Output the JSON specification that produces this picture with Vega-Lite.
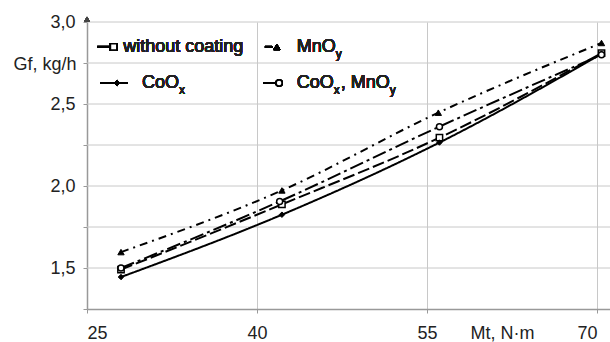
{
  "$schema": "https://vega.github.io/schema/vega-lite/v6.json",
  "width": 523,
  "height": 287,
  "autosize": {"type": "none"},
  "padding": {"left": 87, "top": 22, "right": 0, "bottom": 33},
  "background": "white",
  "config": {
    "view": {"stroke": null},
    "font": "Liberation Sans",
    "axis": {
      "gridColor": "#c8c8c8",
      "domainColor": "#999999",
      "domainWidth": 1.5,
      "tickColor": "#999999",
      "tickSize": 4,
      "labelFont": "Liberation Sans",
      "labelFontSize": 18,
      "labelColor": "#222222",
      "titleFont": "Liberation Sans",
      "titleFontSize": 18,
      "titleFontWeight": "normal",
      "titleColor": "#222222"
    },
    "text": {"font": "Liberation Sans", "fontSize": 18, "fontWeight": "normal", "fill": "#222222", "align": "left", "baseline": "middle"}
  },
  "datasets": {
    "series": [
      {"s": "without coating", "x": 28, "y": 1.49},
      {"s": "without coating", "x": 42.2, "y": 1.888},
      {"s": "without coating", "x": 56.1, "y": 2.295},
      {"s": "without coating", "x": 70.4, "y": 2.81},
      {"s": "MnOy", "x": 28, "y": 1.597},
      {"s": "MnOy", "x": 42.2, "y": 1.973},
      {"s": "MnOy", "x": 56.0, "y": 2.447},
      {"s": "MnOy", "x": 70.4, "y": 2.872},
      {"s": "CoOx", "x": 28, "y": 1.445},
      {"s": "CoOx", "x": 42.2, "y": 1.825},
      {"s": "CoOx", "x": 56.1, "y": 2.265},
      {"s": "CoOx", "x": 70.4, "y": 2.805},
      {"s": "CoOx, MnOy", "x": 28, "y": 1.5},
      {"s": "CoOx, MnOy", "x": 42.0, "y": 1.906},
      {"s": "CoOx, MnOy", "x": 56.1, "y": 2.362},
      {"s": "CoOx, MnOy", "x": 70.4, "y": 2.8}
    ],
    "gridY": [
      {"g": 1.5}, {"g": 1.75}, {"g": 2.0}, {"g": 2.25}, {"g": 2.5}, {"g": 2.75}, {"g": 3.0}
    ]
  },
  "data": {"name": "series"},
  "layer": [
    {
      "data": {"name": "gridY"},
      "mark": {"type": "rule", "color": "#c8c8c8", "strokeWidth": 1},
      "encoding": {
        "y": {
          "field": "g", "type": "quantitative",
          "scale": {"domain": [1.25, 3.0], "nice": false, "zero": false},
          "axis": {
            "grid": false,
            "values": [1.25, 1.5, 1.75, 2.0, 2.25, 2.5, 2.75, 3.0],
            "labelExpr": "(datum.value * 4) % 2 == 0 ? replace(format(datum.value, '.1f'), '.', ',') : ''",
            "labelPadding": 8,
            "title": "Gf, kg/h",
            "titleAngle": 0,
            "titleX": -11,
            "titleY": 42,
            "titleAlign": "right",
            "titleBaseline": "middle"
          }
        }
      }
    },
    {
      "mark": {"type": "line", "stroke": "black", "strokeWidth": 2, "interpolate": "monotone"},
      "encoding": {
        "x": {
          "field": "x", "type": "quantitative",
          "scale": {"domain": [25, 71.15], "nice": false, "zero": false},
          "axis": {
            "grid": true,
            "values": [25, 40, 55, 70],
            "labelPadding": 11,
            "labelFlush": 25,
            "title": "Mt, N·m",
            "titleX": 383,
            "titleY": 15,
            "titleAlign": "left",
            "titleBaseline": "top"
          }
        },
        "y": {"field": "y", "type": "quantitative"},
        "strokeDash": {
          "field": "s", "type": "nominal",
          "scale": {
            "domain": ["without coating", "MnOy", "CoOx", "CoOx, MnOy"],
            "range": [[12, 4], [8, 5, 2, 5], [1, 0], [14, 4, 3, 4]]
          },
          "legend": null
        }
      }
    },
    {
      "transform": [{"filter": "datum.s == 'without coating'"}],
      "mark": {"type": "point", "shape": "square", "filled": true, "fill": "white", "stroke": "black", "strokeWidth": 1.5, "size": 40, "opacity": 1},
      "encoding": {"x": {"field": "x", "type": "quantitative"}, "y": {"field": "y", "type": "quantitative"}}
    },
    {
      "transform": [{"filter": "datum.s == 'MnOy'"}],
      "mark": {"type": "point", "shape": "triangle-up", "filled": true, "fill": "black", "stroke": "black", "strokeWidth": 1, "size": 40, "opacity": 1},
      "encoding": {"x": {"field": "x", "type": "quantitative"}, "y": {"field": "y", "type": "quantitative"}}
    },
    {
      "transform": [{"filter": "datum.s == 'CoOx'"}],
      "mark": {"type": "point", "shape": "diamond", "filled": true, "fill": "black", "stroke": "black", "strokeWidth": 1, "size": 30, "opacity": 1},
      "encoding": {"x": {"field": "x", "type": "quantitative"}, "y": {"field": "y", "type": "quantitative"}}
    },
    {
      "transform": [{"filter": "datum.s == 'CoOx, MnOy'"}],
      "mark": {"type": "point", "shape": "circle", "filled": true, "fill": "white", "stroke": "black", "strokeWidth": 1.5, "size": 36, "opacity": 1},
      "encoding": {"x": {"field": "x", "type": "quantitative"}, "y": {"field": "y", "type": "quantitative"}}
    },
    {
      "mark": {"type": "point", "shape": "triangle-up", "filled": true, "color": "#444444", "size": 30, "opacity": 1, "yOffset": -3},
      "encoding": {"x": {"datum": 25}, "y": {"datum": 3.0}}
    },
    {
      "mark": {"type": "rule", "color": "black", "strokeWidth": 2},
      "encoding": {"x": {"datum": 25.9}, "x2": {"datum": 27.1}, "y": {"datum": 2.848}}
    },
    {
      "mark": {"type": "point", "shape": "square", "filled": true, "fill": "white", "stroke": "black", "strokeWidth": 1.5, "size": 40, "opacity": 1},
      "encoding": {"x": {"datum": 27.35}, "y": {"datum": 2.848}}
    },
    {
      "mark": {"type": "text", "text": "without coating"},
      "encoding": {"x": {"datum": 28.2}, "y": {"datum": 2.848}}
    },
    {
      "mark": {"type": "rule", "color": "black", "strokeWidth": 2},
      "encoding": {"x": {"datum": 40.7}, "x2": {"datum": 41.35}, "y": {"datum": 2.848}}
    },
    {
      "mark": {"type": "point", "shape": "triangle-up", "filled": true, "fill": "black", "stroke": "black", "strokeWidth": 1, "size": 40, "opacity": 1},
      "encoding": {"x": {"datum": 41.75}, "y": {"datum": 2.848}}
    },
    {
      "mark": {"type": "text", "text": "MnO"},
      "encoding": {"x": {"datum": 43.5}, "y": {"datum": 2.848}}
    },
    {
      "mark": {"type": "text", "text": "y", "fontSize": 12, "dx": 39, "dy": 7},
      "encoding": {"x": {"datum": 43.5}, "y": {"datum": 2.848}}
    },
    {
      "mark": {"type": "rule", "color": "black", "strokeWidth": 2},
      "encoding": {"x": {"datum": 26.15}, "x2": {"datum": 28.6}, "y": {"datum": 2.628}}
    },
    {
      "mark": {"type": "point", "shape": "diamond", "filled": true, "fill": "black", "stroke": "black", "strokeWidth": 1, "size": 30, "opacity": 1},
      "encoding": {"x": {"datum": 27.65}, "y": {"datum": 2.628}}
    },
    {
      "mark": {"type": "text", "text": "CoO"},
      "encoding": {"x": {"datum": 29.85}, "y": {"datum": 2.628}}
    },
    {
      "mark": {"type": "text", "text": "x", "fontSize": 12, "dx": 37, "dy": 7},
      "encoding": {"x": {"datum": 29.85}, "y": {"datum": 2.628}}
    },
    {
      "mark": {"type": "rule", "color": "black", "strokeWidth": 2},
      "encoding": {"x": {"datum": 40.55}, "x2": {"datum": 41.65}, "y": {"datum": 2.628}}
    },
    {
      "mark": {"type": "point", "shape": "circle", "filled": true, "fill": "white", "stroke": "black", "strokeWidth": 1.5, "size": 36, "opacity": 1},
      "encoding": {"x": {"datum": 41.95}, "y": {"datum": 2.628}}
    },
    {
      "mark": {"type": "text", "text": "CoO"},
      "encoding": {"x": {"datum": 43.5}, "y": {"datum": 2.628}}
    },
    {
      "mark": {"type": "text", "text": "x", "fontSize": 12, "dx": 37, "dy": 7},
      "encoding": {"x": {"datum": 43.5}, "y": {"datum": 2.628}}
    },
    {
      "mark": {"type": "text", "text": ", MnO", "dx": 44},
      "encoding": {"x": {"datum": 43.5}, "y": {"datum": 2.628}}
    },
    {
      "mark": {"type": "text", "text": "y", "fontSize": 12, "dx": 93, "dy": 7},
      "encoding": {"x": {"datum": 43.5}, "y": {"datum": 2.628}}
    }
  ]
}
